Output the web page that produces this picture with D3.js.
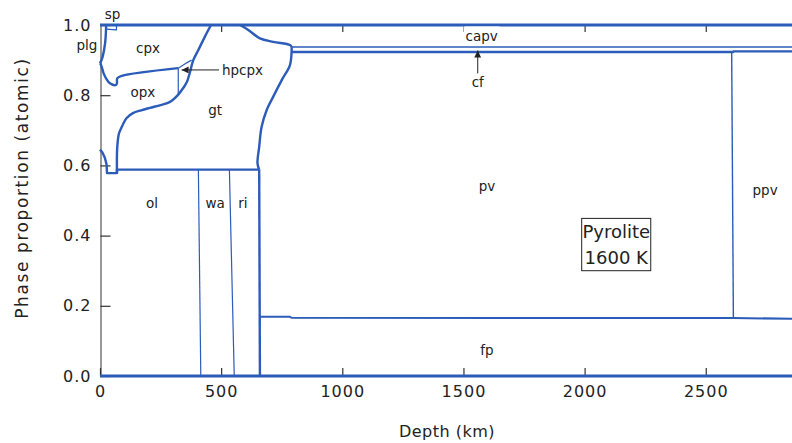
<!DOCTYPE html>
<html>
<head>
<meta charset="utf-8">
<script src="https://cdn.jsdelivr.net/npm/d3@7/dist/d3.min.js"></script>
<style>
  html, body { margin: 0; padding: 0; background: #fff; }
  svg { display: block; }
  text { font-family: "DejaVu Sans", sans-serif; fill: #222; }
</style>
</head>
<body>
<svg id="chart" width="792" height="443"></svg>
<script>
// Axis ticks
const depthTicks = [0, 500, 1000, 1500, 2000, 2500];
const fractionTicks = [0, 0.2, 0.4, 0.6, 0.8, 1.0];

// Phase boundaries: [depth (km), cumulative atomic fraction]
const topEdge     = [[0, 1.0], [2900, 1.0]];
const bottomEdge  = [[0, 0.0], [2900, 0.0]];
const olivineTop  = [[0, 0.645], [10, 0.637], [20, 0.622], [27, 0.603], [29, 0.578], [70, 0.578], [70, 0.588], [657, 0.588]];
const garnetTop   = [[70, 0.578], [71, 0.65], [78, 0.69], [90, 0.71], [110, 0.735], [136, 0.749], [170, 0.757],
                     [206, 0.764], [250, 0.772], [289, 0.781], [322, 0.801], [345, 0.822], [359, 0.838],
                     [371, 0.865], [385, 0.900], [406, 0.929], [433, 0.967], [458, 1.0]];
const opxTop      = [[0, 0.891], [3, 0.888], [7, 0.881], [15, 0.862], [25, 0.848], [41, 0.834], [66, 0.829],
                     [70, 0.835], [71, 0.848], [90, 0.855], [323, 0.877]];
const opxToHpcpx  = [[323, 0.877], [323, 0.801]];
const hpcpxTop    = [[323, 0.877], [350, 0.889], [378, 0.900]];
const cpxTop      = [[0, 0.891], [3, 0.895], [11, 0.910], [21, 0.948], [25, 0.991], [25, 1.0]];
const spinelBase  = [[25, 0.988], [68, 0.986], [68, 1.0]];
const garnetOut   = [[657, 0.588], [650, 0.606], [657, 0.653], [667, 0.710], [688, 0.758], [715, 0.796],
                     [750, 0.843], [784, 0.886], [791, 0.929], [791, 0.937]];
const capvIn      = [[578, 1.0], [612, 0.986], [660, 0.962], [715, 0.952], [784, 0.943], [791, 0.937]];
const capvBase    = [[791, 0.937], [2900, 0.937]];
const pvTop       = [[791, 0.923], [2612, 0.923], [2614, 0.925], [2900, 0.925]];
const fpTop       = [[659, 0.169], [783, 0.169], [790, 0.166], [2614, 0.165], [2900, 0.163]];
const olToWa      = [[406, 0.588], [416, 0.0]];
const waToRi      = [[534, 0.588], [554, 0.0]];
const riOut       = [[657, 0.588], [660, 0.0]];
const pvToPpv     = [[2607, 0.923], [2614, 0.165]];

// Phase names placed at [depth, fraction]
const phaseLabels = [
  ["sp", 52, 1.03], ["plg", -54, 0.943], ["cpx", 198, 0.934], ["opx", 177, 0.809],
  ["gt", 475, 0.758], ["ol", 215, 0.493], ["wa", 475, 0.493], ["ri", 590, 0.493],
  ["capv", 1575, 0.967], ["cf", 1559, 0.838], ["pv", 1597, 0.541], ["fp", 1597, 0.074],
  ["ppv", 2745, 0.530]
];
const hpcpxLabel = ["hpcpx", 503, 0.872];
const hpcpxArrow = [[491, 0.872], [337, 0.872]];
const cfArrow    = [[1559, 0.862], [1559, 0.927]];
const conditionLines = ["Pyrolite", "1600 K"];
const conditionBox = [[1988, 0.449], [2273, 0.300]];

const svg = d3.select("#chart");
svg.append("rect").attr("width", 792).attr("height", 443).attr("fill", "#fff");

const x = d3.scaleLinear().domain([0, 2900]).range([100, 100 + 2900 * 0.2423]);
const y = d3.scaleLinear().domain([0, 1]).range([376, 25]);

const blue = "#2c5cb9";
const thick = 2.4, thin = 1.2;

const smooth = d3.line().x(d => x(d[0])).y(d => y(d[1])).curve(d3.curveCatmullRom.alpha(0.5));
const straight = d3.line().x(d => x(d[0])).y(d => y(d[1]));

const plot = svg.append("g");

const boundaries = [
  [olivineTop, straight, thick],
  [garnetTop, smooth, thick],
  [opxTop, smooth, thick],
  [opxToHpcpx, straight, thin],
  [hpcpxTop, smooth, thin],
  [cpxTop, smooth, thick],
  [spinelBase, straight, thin],
  [garnetOut, smooth, thick],
  [capvIn, smooth, thick],
  [capvBase, straight, thin + 0.3],
  [pvTop, straight, thick],
  [fpTop, straight, thick - 0.4],
  [olToWa, straight, thin],
  [waToRi, straight, thin],
  [riOut, straight, thick],
  [pvToPpv, straight, thin + 0.2],
];
boundaries.forEach(([pts, gen, w]) => {
  plot.append("path").attr("d", gen(pts)).attr("fill", "none")
    .attr("stroke", blue).attr("stroke-width", w).attr("stroke-linejoin", "round");
});

// Axes with inward ticks
const axisColor = "#333";
const gx = svg.append("g").attr("transform", "translate(0,376)")
  .call(d3.axisBottom(x).tickValues(depthTicks).tickSize(-8).tickSizeOuter(0).tickPadding(10).tickFormat(d3.format("d")));
gx.select(".domain").remove();
const gt = svg.append("g").attr("transform", "translate(0,25)")
  .call(d3.axisTop(x).tickValues(depthTicks.slice(1)).tickSize(-7).tickSizeOuter(0).tickFormat(""));
gt.select(".domain").remove();
const gy = svg.append("g").attr("transform", "translate(100.5,0)")
  .call(d3.axisLeft(y).tickValues(fractionTicks).tickSize(-10).tickSizeOuter(0).tickPadding(9).tickFormat(d3.format(".1f")));
[gx, gt, gy].forEach(g => {
  g.selectAll("line").attr("stroke", axisColor).attr("stroke-width", 1.2);
  g.selectAll("path").attr("stroke", axisColor);
  g.selectAll("text").style("font-family", "DejaVu Sans, sans-serif").style("font-size", "16px")
    .style("letter-spacing", "1px").attr("fill", "#222");
});

// Top and bottom edges drawn over the ticks' base
plot.raise();
plot.append("path").attr("d", straight(topEdge)).attr("fill", "none").attr("stroke", blue).attr("stroke-width", thick + 0.4);
plot.append("path").attr("d", straight(bottomEdge)).attr("fill", "none").attr("stroke", blue).attr("stroke-width", thick + 0.6);

// Axis titles
svg.append("text").attr("x", 447).attr("y", 437).attr("text-anchor", "middle")
  .style("font-size", "16px").style("letter-spacing", "0.5px").text("Depth (km)");
svg.append("text").attr("transform", "translate(28,188) rotate(-90)").attr("text-anchor", "middle")
  .style("font-size", "17px").style("letter-spacing", "1.6px").text("Phase proportion (atomic)");

// Phase names
const labels = svg.append("g").style("font-size", "13.5px");
// white backing behind the capv name
labels.append("rect").attr("x", x(1575) - 18).attr("y", 26.5).attr("width", 36).attr("height", 17).attr("fill", "#fff");
phaseLabels.forEach(([t, d, f]) => {
  labels.append("text").attr("x", x(d)).attr("y", y(f)).attr("dy", "0.35em")
    .attr("text-anchor", "middle").text(t);
});
labels.append("text").attr("x", x(hpcpxLabel[1])).attr("y", y(hpcpxLabel[2])).attr("dy", "0.35em").text(hpcpxLabel[0]);

// Pointer arrows
svg.append("defs").append("marker").attr("id", "head").attr("viewBox", "0 0 10 10")
  .attr("refX", 10).attr("refY", 5).attr("markerWidth", 13).attr("markerHeight", 7)
  .attr("markerUnits", "userSpaceOnUse").attr("orient", "auto")
  .append("path").attr("d", "M0,0 L10,5 L0,10 Z").attr("fill", "#222");
[hpcpxArrow, cfArrow].forEach(a => {
  svg.append("path").attr("d", straight(a)).attr("stroke", "#222").attr("stroke-width", 1)
    .attr("fill", "none").attr("marker-end", "url(#head)");
});

// Conditions box
const bx0 = x(conditionBox[0][0]), by0 = y(conditionBox[0][1]);
const bx1 = x(conditionBox[1][0]), by1 = y(conditionBox[1][1]);
svg.append("rect").attr("x", bx0).attr("y", by0).attr("width", bx1 - bx0).attr("height", by1 - by0)
  .attr("fill", "#fff").attr("stroke", "#222").attr("stroke-width", 1);
conditionLines.forEach((t, i) => {
  svg.append("text").attr("x", (bx0 + bx1) / 2).attr("y", by0 + 13.5 + i * 26).attr("dy", "0.35em")
    .attr("text-anchor", "middle").style("font-size", "18px").text(t);
});
</script>
</body>
</html>
